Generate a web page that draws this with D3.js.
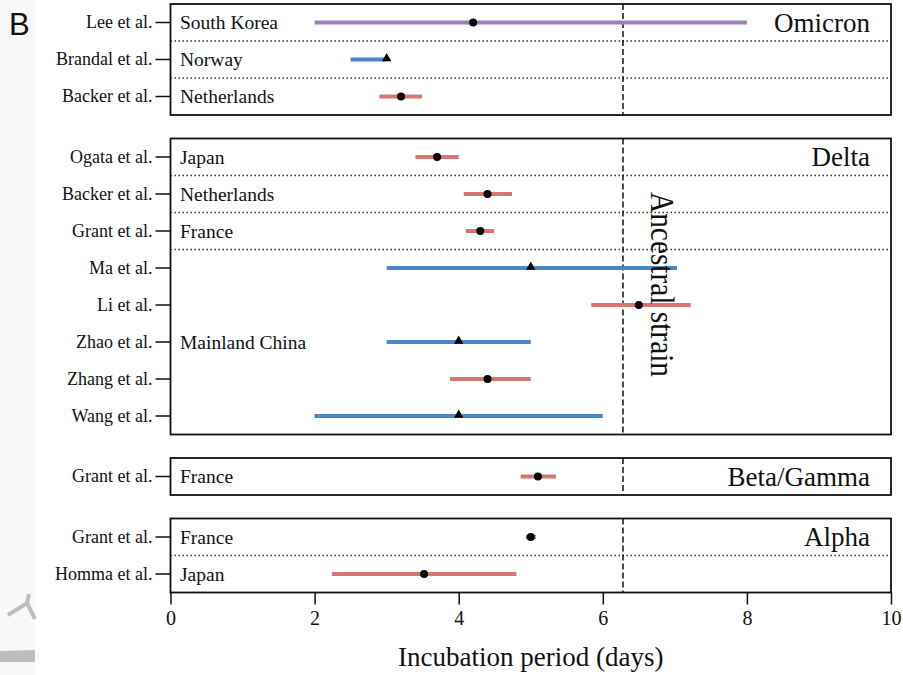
<!DOCTYPE html>
<html>
<head>
<meta charset="utf-8">
<script src="https://cdn.jsdelivr.net/npm/d3@7"></script>
<style>
  body { margin: 0; background: #fff; }
  text { font-family: "Liberation Serif", "Times New Roman", serif; fill: #111; }
</style>
</head>
<body>
<svg id="chart"></svg>
<script>
/////////////////////////////////////////////////
/////////////////// Data ////////////////////////
/////////////////////////////////////////////////

var variants = ["Omicron", "Delta", "Beta/Gamma", "Alpha"];

var studies = ["Lee et al.", "Brandal et al.", "Backer et al.",
  "Ogata et al.", "Backer et al.", "Grant et al.", "Ma et al.", "Li et al.",
  "Zhao et al.", "Zhang et al.", "Wang et al.",
  "Grant et al.",
  "Grant et al.", "Homma et al."];

var variantOf = ["Omicron", "Omicron", "Omicron",
  "Delta", "Delta", "Delta", "Delta", "Delta", "Delta", "Delta", "Delta",
  "Beta/Gamma",
  "Alpha", "Alpha"];

var countries = ["South Korea", "Norway", "Netherlands",
  "Japan", "Netherlands", "France", "Mainland China", "Mainland China",
  "Mainland China", "Mainland China", "Mainland China",
  "France",
  "France", "Japan"];

// point estimate and interval (days)
var estimate = [4.2, 3.0, 3.2, 3.7, 4.4, 4.3, 5.0, 6.5, 4.0, 4.4, 4.0, 5.1, 5.0, 3.52];
var lower    = [2.0, 2.5, 2.9, 3.4, 4.07, 4.1, 3.0, 5.84, 3.0, 3.88, 2.0, 4.86, 4.93, 2.24];
var upper    = [8.0, 3.0, 3.49, 4.0, 4.74, 4.49, 7.03, 7.22, 5.0, 5.0, 6.0, 5.35, 5.07, 4.8];
var estType  = ["other", "median", "mean", "mean", "mean", "mean", "median", "mean",
  "median", "mean", "median", "mean", "mean", "mean"];

var ancestral = 6.28;
var xTicks = [0, 2, 4, 6, 8, 10];

/////////////////////////////////////////////////
/////////////////// Layout //////////////////////
/////////////////////////////////////////////////

var svgWidth = 903, svgHeight = 675;
var left = 170.5, right = 891, top0 = 4, rowH = 37, gap = 23.5;

var svg = d3.select("#chart")
.attr("width", svgWidth)
.attr("height", svgHeight);

// left strip and bits of the neighbouring panel
svg.append("rect").attr("x", 0).attr("y", 0).attr("width", 35).attr("height", svgHeight)
.attr("fill", "#f8f8f8");
svg.append("path").attr("d", "M8,615 L27,603 L35,619 M27,603 L29,594")
.attr("stroke", "#bdbdbd").attr("stroke-width", 4).attr("fill", "none");
svg.append("path").attr("d", "M0,651 L35,650 L35,662 L0,662 Z")
.attr("fill", "#bdbdbd");

svg.append("text").text("B")
.attr("x", 9).attr("y", 35)
.style("font-family", "Liberation Sans, Arial, sans-serif")
.style("font-size", "31px");

var x = d3.scaleLinear().domain([0, 10]).range([left, right]);

var color = d3.scaleOrdinal()
.domain(["other", "median", "mean"])
.range(["#9b80b5", "#4a87c7", "#d3776f"]);

var rows = studies.map(function (s, i) {
  return {i: i, study: s, variant: variantOf[i], country: countries[i],
    est: estimate[i], lo: lower[i], hi: upper[i], type: estType[i]};
});

var y = 0;
var panels = variants.map(function (v) {
  var r = rows.filter(function (d) { return d.variant === v; });
  var p = {variant: v, rows: r, top: (y === 0 ? top0 : y), bottom: 0};
  p.bottom = p.top + r.length * rowH;
  y = p.bottom + gap;
  p.scale = d3.scaleBand().domain(r.map(function (d) { return d.i; }))
  .range([p.top, p.bottom]);
  return p;
});

panels.forEach(function (p) {
  var g = svg.append("g");
  var yb = p.scale;
  var cy = function (d) { return yb(d.i) + yb.bandwidth() / 2; };

  // dotted separators between country groups
  p.rows.forEach(function (d, k) {
    if (k > 0 && p.rows[k - 1].country !== d.country) {
      g.append("line")
      .attr("x1", left).attr("x2", right)
      .attr("y1", yb(d.i)).attr("y2", yb(d.i))
      .attr("stroke", "#333").attr("stroke-width", 1.3)
      .attr("stroke-dasharray", "1.5,2.5");
    }
  });

  // ancestral strain reference
  g.append("line")
  .attr("x1", x(ancestral)).attr("x2", x(ancestral))
  .attr("y1", p.top).attr("y2", p.bottom)
  .attr("stroke", "#111").attr("stroke-width", 1.5)
  .attr("stroke-dasharray", "6,3");

  // country labels, one per group, centred on the group
  var groups = d3.groups(p.rows, function (d) { return d.country; });
  groups.forEach(function (gr) {
    var first = gr[1][0], last = gr[1][gr[1].length - 1];
    var mid = (yb(first.i) + yb(last.i) + yb.bandwidth()) / 2;
    g.append("text").text(gr[0])
    .attr("x", 180).attr("y", mid)
    .attr("dominant-baseline", "central")
    .style("font-size", "19.5px");
  });

  // intervals
  g.selectAll(".ci").data(p.rows).enter().append("line")
  .attr("x1", function (d) { return x(d.lo); })
  .attr("x2", function (d) { return x(d.hi); })
  .attr("y1", cy).attr("y2", cy)
  .attr("stroke", function (d) { return color(d.type); })
  .attr("stroke-width", 4);

  // estimates
  g.selectAll(".pt").data(p.rows).enter().append("path")
  .attr("d", function (d) {
    return d3.symbol().type(d.type === "median" ? d3.symbolTriangle : d3.symbolCircle)
    .size(d.type === "median" ? 38 : 50)();
  })
  .attr("transform", function (d) {
    return "translate(" + x(d.est) + "," + (cy(d) + (d.type === "median" ? -1 : 0)) + ")";
  })
  .attr("fill", "#000");

  // variant label
  g.append("text").text(p.variant)
  .attr("x", 870).attr("y", yb(p.rows[0].i) + yb.bandwidth() / 2)
  .attr("text-anchor", "end")
  .attr("dominant-baseline", "central")
  .style("font-size", "27px");

  // study axis
  var yAxis = g.append("g")
  .attr("transform", "translate(" + left + ",0)")
  .call(d3.axisLeft(yb).tickSize(15).tickPadding(3)
  .tickFormat(function (i) { return studies[i]; }));
  yAxis.select(".domain").remove();
  yAxis.selectAll(".tick line").attr("stroke", "#111").attr("stroke-width", 1.5);
  yAxis.selectAll(".tick text")
  .style("font-family", "Liberation Serif, Times New Roman, serif")
  .style("font-size", "18px").attr("fill", "#111");

  // frame
  g.append("rect")
  .attr("x", left).attr("y", p.top)
  .attr("width", right - left).attr("height", p.bottom - p.top)
  .attr("fill", "none").attr("stroke", "#111").attr("stroke-width", 1.8);

  if (p.variant === "Delta") {
    g.append("text").text("Ancestral strain")
    .attr("transform", "translate(662," + ((p.top + p.bottom) / 2 - 2) + ") rotate(90)")
    .attr("text-anchor", "middle")
    .attr("dominant-baseline", "central")
    .attr("textLength", 185)
    .attr("lengthAdjust", "spacingAndGlyphs")
    .style("font-size", "34px");
  }
});

/////////////////////////////////////////////////
/////////////////// X axis //////////////////////
/////////////////////////////////////////////////

var lastPanel = panels[panels.length - 1];
var xAxis = svg.append("g")
.attr("transform", "translate(0," + lastPanel.bottom + ")")
.call(d3.axisBottom(x).tickValues(xTicks).tickSize(12).tickPadding(6)
.tickFormat(d3.format("d")));
xAxis.select(".domain").remove();
xAxis.selectAll(".tick line").attr("stroke", "#111").attr("stroke-width", 1.5);
xAxis.selectAll(".tick text")
.style("font-family", "Liberation Serif, Times New Roman, serif")
.style("font-size", "20px").attr("fill", "#111");

svg.append("text").text("Incubation period (days)")
.attr("x", x(5)).attr("y", 666)
.attr("text-anchor", "middle")
.style("font-size", "27px");
</script>
</body>
</html>
